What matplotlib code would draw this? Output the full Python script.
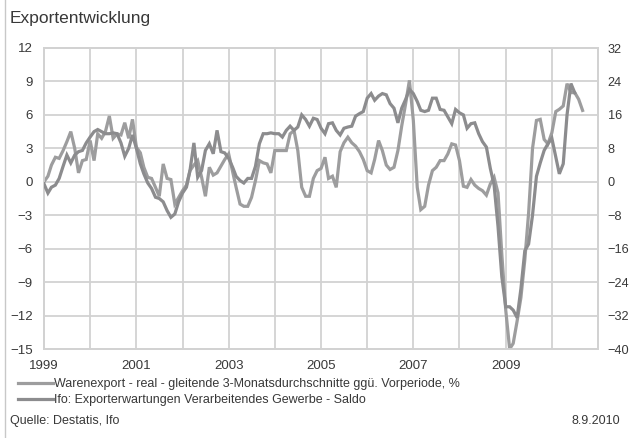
import matplotlib
matplotlib.use('Agg')
import matplotlib.pyplot as plt
import matplotlib.dates as mdates
from matplotlib.lines import Line2D
from matplotlib.ticker import FuncFormatter
import pandas as pd
from datetime import datetime

plt.rcParams['font.family'] = ['Liberation Sans', 'DejaVu Sans']

# Monthly data starting January 1999
warenexport = [
    0.0, 0.5, 1.5, 2.2, 2.1, 2.8, 3.6, 4.5, 3.0, 0.8, 1.9, 2.0,
    3.7, 1.9, 4.3, 3.9, 4.5, 5.9, 3.9, 4.3, 4.2, 5.3, 3.9, 5.6,
    3.1, 2.6, 1.3, 0.4, 0.3, -0.5, -1.3, 1.6, 0.3, 0.2, -2.0, -1.4,
    -0.8, -0.3, 1.0, 1.5, 1.9, 0.4, -1.3, 1.3, 0.6, 0.8, 1.4, 2.0,
    2.5, 0.9, -0.5, -2.0, -2.2, -2.2, -1.4, 0.1, 1.9, 1.7, 1.6, 0.8,
    2.8, 2.8, 2.8, 2.8, 4.3, 4.6, 2.8, -0.5, -1.3, -1.3, 0.3, 1.0,
    1.2, 2.2, 0.3, 0.5, -0.5, 2.7, 3.5, 4.0, 3.5, 3.2, 2.7, 2.0,
    1.0, 0.8, 2.0, 3.7, 2.8, 1.5, 1.1, 1.3, 2.8, 5.0, 7.0, 9.1,
    5.5, -0.5, -2.5, -2.2, -0.3, 1.0, 1.3, 1.9, 1.9, 2.5, 3.4, 3.3,
    1.9, -0.4, -0.5, 0.2, -0.3, -0.6, -0.8, -1.2, -0.2, 0.4, -1.0, -6.5,
    -11.5, -15.0, -14.5, -12.5, -10.4, -7.0, -2.8, 3.0, 5.5, 5.6, 3.8, 3.4,
    4.4, 6.3, 6.5, 6.8, 8.8, 8.0, 8.0, 7.4, 6.4,
]

ifo = [
    -0.5, -2.7, -1.3, -0.8, 0.8, 3.7, 6.4, 4.5, 6.4, 7.2, 7.5, 9.3,
    10.7, 12.0, 12.5, 12.0, 11.5, 11.5, 11.7, 11.5, 9.3, 6.1, 8.0, 11.2,
    8.0, 4.3, 1.9, -0.3, -1.6, -3.7, -4.0, -4.8, -6.9, -8.5, -7.7, -4.8,
    -2.7, -1.3, 2.7, 9.3, 1.1, 2.7, 7.5, 9.1, 6.7, 12.3, 7.2, 6.9,
    5.6, 3.5, 1.3, 0.3, -0.3, 0.8, 0.8, 3.7, 9.1, 11.5, 11.5, 11.7,
    11.5, 11.5, 10.7, 12.3, 13.3, 12.3, 13.1, 16.0, 14.9, 13.3, 15.2, 14.9,
    12.8, 11.5, 13.9, 14.1, 12.3, 11.2, 12.8, 13.1, 13.3, 15.7, 16.3, 16.8,
    20.0, 21.1, 19.5, 20.5, 21.1, 20.8, 18.7, 17.6, 14.1, 17.6, 19.7, 22.1,
    21.1, 19.2, 17.1, 16.8, 17.1, 20.0, 20.0, 17.3, 17.1, 15.5, 13.9, 17.3,
    16.5, 16.0, 12.8, 13.9, 14.1, 11.5, 9.6, 8.3, 3.2, -0.8, -10.7, -22.7,
    -29.9, -29.9, -30.7, -32.5, -25.6, -16.5, -14.9, -8.0, 1.3, 4.5, 7.5, 9.1,
    10.4, 5.9, 1.9, 4.3, 16.0, 23.5, 21.3,
]

label_w = 'Warenexport - real - gleitende 3-Monatsdurchschnitte ggü. Vorperiode, %'
label_i = 'Ifo: Exporterwartungen Verarbeitendes Gewerbe - Saldo'
left_ticks = list(range(-15, 13, 3))
right_ticks = list(range(-40, 33, 8))

dates_w = pd.date_range('1999-01-01', periods=len(warenexport), freq='MS')
dates_i = pd.date_range('1999-01-01', periods=len(ifo), freq='MS')

text_color = '#383838'
grid_color = '#d2d2d2'

fig = plt.figure(figsize=(6.3, 4.38), dpi=100)
ax = fig.add_axes([44/630, 89/438, 554/630, 301/438])
ax2 = ax.twinx()

lw_line, = ax.plot(dates_w, warenexport, color='#9d9d9e', lw=2.3, solid_joinstyle='miter', zorder=3)
li_line, = ax2.plot(dates_i, ifo, color='#8c8c8e', lw=2.3, solid_joinstyle='miter', zorder=3)

ax.set_xlim(datetime(1999, 1, 1), datetime(2011, 1, 1))
ax.set_ylim(-15, 12)
ax.set_yticks(left_ticks)
ax2.set_ylim(-40, 32)
ax2.set_yticks(right_ticks)

ax.xaxis.set_major_locator(mdates.YearLocator(1))
ax.xaxis.set_major_formatter(FuncFormatter(
    lambda v, pos: str(mdates.num2date(v).year) if mdates.num2date(v).year % 2 == 1 and mdates.num2date(v).year < 2011 else ''))

ax.grid(True, color=grid_color, lw=1.3, zorder=0)
ax.set_axisbelow(True)
for a in (ax, ax2):
    for s in a.spines.values():
        s.set_color(grid_color)
        s.set_linewidth(1.3)

ax.tick_params(axis='both', length=0, labelsize=9.5, labelcolor=text_color)
ax.tick_params(axis='y', pad=8)
ax.tick_params(axis='x', pad=8)
ax2.tick_params(axis='y', length=0, labelsize=9.2, labelcolor=text_color, pad=7)

fig.legend(handles=[lw_line, li_line], labels=[label_w, label_i],
           loc='upper left', bbox_to_anchor=(18/630, 1 - 378/438),
           frameon=False, fontsize=9, handlelength=2.8, handletextpad=0.1,
           labelspacing=0.35, borderpad=0, borderaxespad=0, labelcolor=text_color)

fig.text(10/630, 1 - 18/438, 'Exportentwicklung', fontsize=12.5, va='center', ha='left', color=text_color)
fig.text(10/630, 1 - 421/438, 'Quelle: Destatis, Ifo', fontsize=9, va='center', ha='left', color=text_color)
fig.text(620/630, 1 - 421/438, '8.9.2010', fontsize=9, va='center', ha='right', color=text_color)

fig.add_artist(Line2D([5/630, 5/630], [0, 1], color='#c8c8c8', lw=1, transform=fig.transFigure))

fig.savefig('out.png', dpi=100)
